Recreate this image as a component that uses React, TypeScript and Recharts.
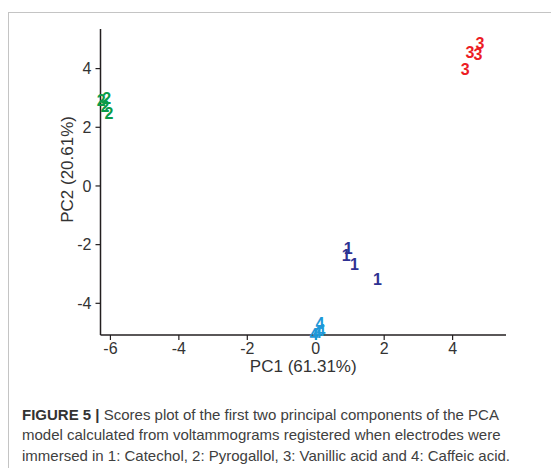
import React from "react";
import { ScatterChart, Scatter, XAxis, YAxis, Label } from "recharts";

// PCA scores, one array per compound (pc1, pc2)
const catechol = [
  { pc1: 0.95, pc2: -2.13 },
  { pc1: 0.89, pc2: -2.38 },
  { pc1: 1.13, pc2: -2.68 },
  { pc1: 1.8, pc2: -3.18 },
];
const pyrogallol = [
  { pc1: -6.27, pc2: 2.92 },
  { pc1: -6.11, pc2: 2.98 },
  { pc1: -6.16, pc2: 2.71 },
  { pc1: -6.04, pc2: 2.48 },
];
const vanillicAcid = [
  { pc1: 4.37, pc2: 3.96 },
  { pc1: 4.51, pc2: 4.55 },
  { pc1: 4.74, pc2: 4.47 },
  { pc1: 4.8, pc2: 4.85 },
];
const caffeicAcid = [
  { pc1: 0.12, pc2: -4.68 },
  { pc1: 0.15, pc2: -4.92 },
  { pc1: 0.05, pc2: -5.0 },
  { pc1: -0.05, pc2: -5.05 },
];

const xTicks = [-6, -4, -2, 0, 2, 4];
const yTicks = [-4, -2, 0, 2, 4];

const FONT = '"Liberation Sans", Arial, Helvetica, sans-serif';
const AXIS = "#231f20";
const TICK_TEXT = "#333333";

// draws the group number as the marker
function digitShape(label: string, color: string) {
  return (props: any) => (
    <text
      x={props.cx}
      y={props.cy}
      fill={color}
      textAnchor="middle"
      dominantBaseline="central"
      fontSize={16}
      fontWeight="bold"
      fontFamily={FONT}
    >
      {label}
    </text>
  );
}

export default function App() {
  return (
    <div
      style={{
        position: "absolute",
        left: 0,
        top: 0,
        width: 551,
        height: 468,
        overflow: "hidden",
        background: "#ffffff",
        fontFamily: FONT,
      }}
    >
      {/* figure frame, cut off at right and bottom */}
      <div
        style={{
          position: "absolute",
          left: 8,
          top: 12,
          width: 700,
          height: 600,
          border: "1.5px solid #c4c4c4",
        }}
      />

      <div style={{ position: "absolute", left: 0, top: 0 }}>
        <ScatterChart
          width={551}
          height={400}
          margin={{ top: 29, right: 45, bottom: 0, left: 0.5 }}
        >
          <XAxis
            type="number"
            dataKey="pc1"
            domain={[-6.29, 5.56]}
            ticks={xTicks}
            interval={0}
            height={65}
            tickSize={5}
            tickMargin={3}
            axisLine={{ stroke: AXIS, strokeWidth: 1.5 }}
            tickLine={{ stroke: AXIS, strokeWidth: 1.2 }}
            tick={{ fill: TICK_TEXT, fontSize: 16, fontFamily: FONT }}
          >
            <Label
              content={(p: any) => {
                const vb = p.viewBox || { x: 100.5, y: 335, width: 405.5 };
                return (
                  <text
                    x={vb.x + vb.width / 2}
                    y={vb.y + 31}
                    textAnchor="middle"
                    dominantBaseline="central"
                    fill={TICK_TEXT}
                    fontSize={17}
                    fontFamily={FONT}
                  >
                    PC1 (61.31%)
                  </text>
                );
              }}
            />
          </XAxis>
          <YAxis
            type="number"
            dataKey="pc2"
            domain={[-5.08, 5.35]}
            ticks={yTicks}
            interval={0}
            width={100}
            tickSize={5}
            tickMargin={4}
            axisLine={{ stroke: AXIS, strokeWidth: 1.5 }}
            tickLine={{ stroke: AXIS, strokeWidth: 1.2 }}
            tick={{ fill: TICK_TEXT, fontSize: 16, fontFamily: FONT }}
          >
            <Label
              content={(p: any) => {
                const vb = p.viewBox || { x: 0.5, y: 29, height: 306 };
                const cx = vb.x + 67.5;
                const cy = vb.y + vb.height / 2 - 12.6;
                return (
                  <text
                    x={cx}
                    y={cy}
                    transform={`rotate(-90 ${cx} ${cy})`}
                    textAnchor="middle"
                    dominantBaseline="central"
                    fill={TICK_TEXT}
                    fontSize={17}
                    fontFamily={FONT}
                  >
                    PC2 (20.61%)
                  </text>
                );
              }}
            />
          </YAxis>
          <Scatter
            name="Catechol"
            data={catechol}
            shape={digitShape("1", "#2e3192")}
            isAnimationActive={false}
          />
          <Scatter
            name="Pyrogallol"
            data={pyrogallol}
            shape={digitShape("2", "#0b9b48")}
            isAnimationActive={false}
          />
          <Scatter
            name="Vanillic acid"
            data={vanillicAcid}
            shape={digitShape("3", "#ec1c24")}
            isAnimationActive={false}
          />
          <Scatter
            name="Caffeic acid"
            data={caffeicAcid}
            shape={digitShape("4", "#1e98d8")}
            isAnimationActive={false}
          />
        </ScatterChart>
      </div>

      {/* caption */}
      <div
        style={{
          position: "absolute",
          left: 22,
          top: 404.5,
          fontSize: 15,
          lineHeight: "20.5px",
          color: "#404040",
          whiteSpace: "nowrap",
        }}
      >
        <div>
          <span style={{ fontWeight: "bold", color: "#333" }}>FIGURE 5 |</span>{" "}
          Scores plot of the first two principal components of the PCA
        </div>
        <div>
          model calculated from voltammograms registered when electrodes were
        </div>
        <div>
          immersed in 1: Catechol, 2: Pyrogallol, 3: Vanillic acid and 4: Caffeic
          acid.
        </div>
      </div>
    </div>
  );
}
